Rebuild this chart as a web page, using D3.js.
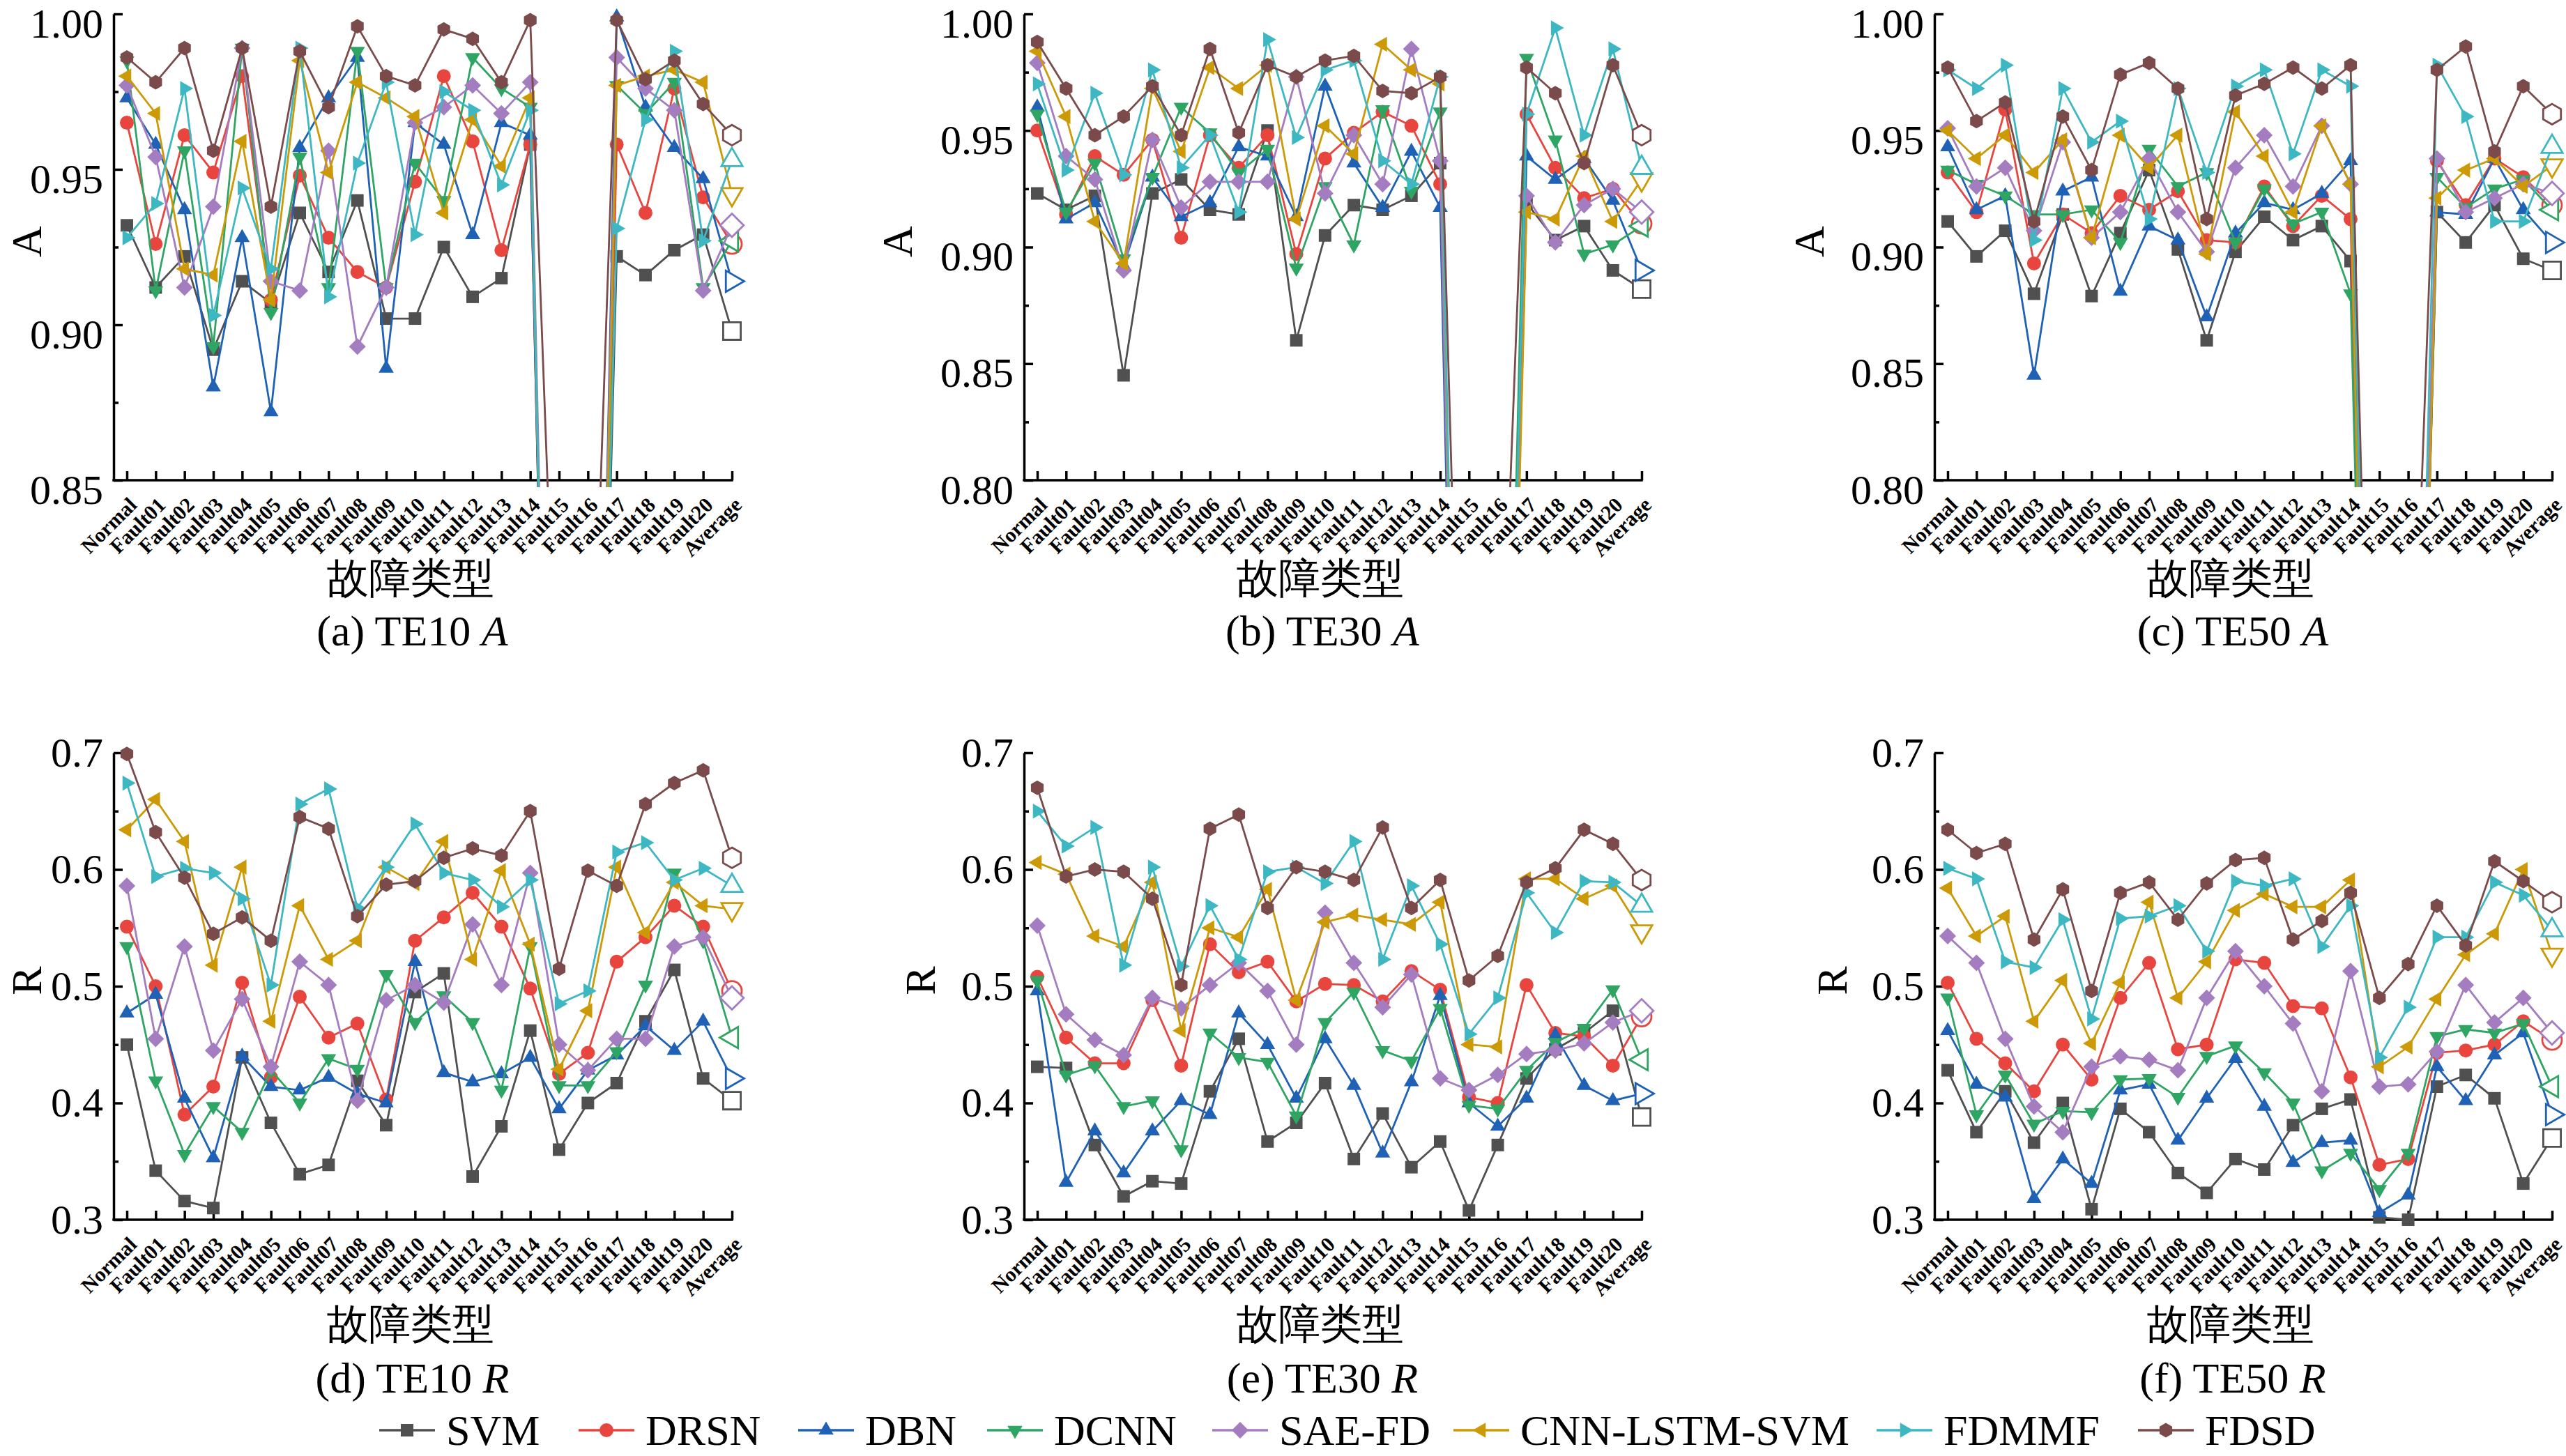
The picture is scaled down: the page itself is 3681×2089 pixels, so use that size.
<!DOCTYPE html>
<html>
<head>
<meta charset="utf-8">
<script src="https://cdn.jsdelivr.net/npm/d3@7"></script>
<style>
body{margin:0;background:#fff}
svg{display:block}
text{font-family:"Liberation Serif","Times New Roman",serif;fill:#000}
</style>
</head>
<body>
<div class="box"></div>
<script>
const categories=['Normal','Fault01','Fault02','Fault03','Fault04','Fault05','Fault06','Fault07','Fault08','Fault09','Fault10',
  'Fault11','Fault12','Fault13','Fault14','Fault15','Fault16','Fault17','Fault18','Fault19','Fault20','Average'];
const methods=['SVM','DRSN','DBN','DCNN','SAE-FD','CNN-LSTM-SVM','FDMMF','FDSD'];
const couleurs=['#505050','#E8453F','#1F62B5','#2EA563','#A47CC0','#CC9A06','#3DB8C2','#7B4B4B'];
const formes=['square','circle','up','down','diamond','left','right','hexagon'];
const formesMoy=['square','circle','right','left','diamond','down','up','hexagon'];

const ticksA1=[0.85,0.90,0.95,1.00], minorA1=[0.875,0.925,0.975];
const ticksA2=[0.80,0.85,0.90,0.95,1.00], minorA2=[0.825,0.875,0.925,0.975];
const ticksR=[0.3,0.4,0.5,0.6,0.7], minorR=[0.35,0.45,0.55,0.65];

// une ligne par méthode, dans l'ordre de methods
const te10A=[
 [0.932,0.912,0.922,0.892,0.914,0.907,0.936,0.917,0.940,0.902,0.902,0.925,0.909,0.915,0.958,0.56,0.57,0.922,0.916,0.924,0.929,0.898],
 [0.965,0.926,0.961,0.949,0.980,0.908,0.948,0.928,0.917,0.912,0.946,0.980,0.959,0.924,0.958,0.55,0.56,0.958,0.936,0.976,0.941,0.926],
 [0.973,0.958,0.937,0.880,0.928,0.872,0.957,0.973,0.986,0.886,0.965,0.958,0.929,0.965,0.961,0.54,0.55,0.999,0.970,0.957,0.947,0.914],
 [0.985,0.911,0.956,0.893,0.989,0.904,0.954,0.912,0.988,0.912,0.952,0.940,0.986,0.976,0.970,0.55,0.54,0.977,0.968,0.978,0.912,0.927],
 [0.977,0.954,0.912,0.938,0.989,0.914,0.911,0.956,0.893,0.912,0.965,0.970,0.977,0.968,0.978,0.56,0.56,0.986,0.976,0.969,0.911,0.932],
 [0.980,0.968,0.918,0.916,0.959,0.908,0.985,0.949,0.978,0.973,0.967,0.936,0.966,0.951,0.973,0.53,0.55,0.977,0.980,0.982,0.978,0.942],
 [0.928,0.939,0.976,0.903,0.944,0.918,0.989,0.909,0.952,0.978,0.929,0.975,0.969,0.945,0.969,0.55,0.58,0.931,0.966,0.988,0.927,0.953],
 [0.986,0.978,0.989,0.956,0.989,0.938,0.988,0.970,0.996,0.980,0.977,0.995,0.992,0.978,0.998,0.75,0.73,0.998,0.979,0.985,0.971,0.961]
];
const te30A=[
 [0.923,0.916,0.922,0.845,0.923,0.929,0.916,0.914,0.950,0.860,0.905,0.918,0.916,0.922,0.936,0.38,0.45,0.919,0.903,0.909,0.890,0.882],
 [0.950,0.914,0.939,0.931,0.946,0.904,0.948,0.934,0.948,0.897,0.938,0.949,0.958,0.952,0.927,0.37,0.46,0.957,0.934,0.921,0.925,0.910],
 [0.960,0.912,0.919,0.892,0.930,0.913,0.919,0.943,0.939,0.913,0.969,0.936,0.917,0.941,0.917,0.36,0.44,0.939,0.929,0.938,0.920,0.890],
 [0.957,0.915,0.936,0.895,0.930,0.960,0.949,0.932,0.942,0.891,0.926,0.901,0.959,0.924,0.958,0.38,0.47,0.981,0.946,0.897,0.901,0.909],
 [0.979,0.939,0.929,0.890,0.946,0.917,0.928,0.928,0.928,0.973,0.923,0.948,0.927,0.985,0.937,0.37,0.45,0.922,0.902,0.918,0.925,0.915],
 [0.984,0.956,0.911,0.893,0.968,0.941,0.977,0.968,0.978,0.912,0.952,0.940,0.987,0.976,0.970,0.36,0.43,0.915,0.912,0.939,0.911,0.929],
 [0.970,0.933,0.966,0.931,0.976,0.934,0.948,0.915,0.989,0.947,0.976,0.980,0.937,0.927,0.973,0.39,0.46,0.957,0.994,0.948,0.985,0.934],
 [0.988,0.968,0.948,0.956,0.969,0.948,0.985,0.949,0.978,0.973,0.980,0.982,0.967,0.966,0.973,0.54,0.66,0.977,0.966,0.936,0.978,0.948]
];
const te50A=[
 [0.911,0.896,0.907,0.880,0.914,0.879,0.906,0.933,0.899,0.860,0.898,0.913,0.903,0.909,0.894,0.40,0.45,0.915,0.902,0.918,0.895,0.890],
 [0.932,0.915,0.959,0.893,0.914,0.906,0.922,0.916,0.924,0.903,0.902,0.926,0.909,0.922,0.912,0.39,0.46,0.937,0.918,0.938,0.930,0.918],
 [0.943,0.916,0.922,0.845,0.924,0.930,0.881,0.909,0.903,0.870,0.906,0.919,0.916,0.923,0.937,0.41,0.44,0.915,0.914,0.938,0.916,0.902],
 [0.933,0.927,0.922,0.914,0.914,0.916,0.902,0.942,0.926,0.932,0.902,0.925,0.910,0.915,0.880,0.40,0.45,0.930,0.917,0.925,0.929,0.916],
 [0.951,0.926,0.934,0.907,0.945,0.904,0.915,0.938,0.915,0.898,0.934,0.948,0.926,0.952,0.927,0.38,0.46,0.938,0.915,0.921,0.927,0.923],
 [0.950,0.938,0.948,0.932,0.946,0.904,0.948,0.934,0.948,0.897,0.958,0.939,0.915,0.952,0.927,0.39,0.43,0.921,0.933,0.938,0.926,0.935],
 [0.976,0.968,0.978,0.903,0.968,0.945,0.954,0.912,0.968,0.932,0.969,0.976,0.940,0.976,0.969,0.41,0.47,0.978,0.956,0.911,0.911,0.943],
 [0.977,0.954,0.962,0.911,0.956,0.933,0.974,0.979,0.968,0.912,0.965,0.970,0.977,0.968,0.978,0.50,0.64,0.976,0.986,0.941,0.969,0.957]
];
const te10R=[
 [0.450,0.342,0.316,0.310,0.439,0.383,0.339,0.347,0.419,0.381,0.495,0.511,0.337,0.380,0.462,0.360,0.400,0.417,0.470,0.514,0.421,0.402],
 [0.551,0.500,0.390,0.414,0.503,0.422,0.491,0.456,0.468,0.403,0.539,0.559,0.580,0.551,0.498,0.425,0.443,0.521,0.542,0.569,0.551,0.496],
 [0.477,0.493,0.404,0.353,0.440,0.414,0.411,0.422,0.408,0.400,0.521,0.426,0.418,0.425,0.439,0.395,0.428,0.441,0.466,0.445,0.470,0.421],
 [0.534,0.419,0.356,0.397,0.375,0.428,0.400,0.438,0.429,0.510,0.469,0.492,0.469,0.411,0.534,0.415,0.415,0.444,0.501,0.597,0.539,0.456],
 [0.586,0.455,0.534,0.445,0.489,0.431,0.521,0.501,0.402,0.488,0.501,0.486,0.553,0.501,0.597,0.450,0.428,0.455,0.455,0.534,0.542,0.490],
 [0.634,0.660,0.624,0.518,0.602,0.470,0.569,0.523,0.539,0.602,0.588,0.624,0.523,0.599,0.536,0.429,0.479,0.602,0.546,0.589,0.569,0.566],
 [0.674,0.594,0.601,0.597,0.575,0.501,0.656,0.669,0.567,0.602,0.639,0.597,0.591,0.568,0.591,0.485,0.496,0.615,0.623,0.591,0.601,0.586],
 [0.699,0.632,0.593,0.545,0.559,0.539,0.645,0.635,0.560,0.587,0.590,0.610,0.618,0.612,0.650,0.515,0.599,0.586,0.656,0.674,0.685,0.610]
];
const te30R=[
 [0.431,0.430,0.364,0.320,0.333,0.331,0.410,0.455,0.367,0.383,0.417,0.352,0.391,0.345,0.367,0.308,0.364,0.421,0.446,0.460,0.479,0.388],
 [0.508,0.456,0.434,0.434,0.488,0.432,0.536,0.512,0.521,0.487,0.502,0.501,0.487,0.513,0.497,0.405,0.400,0.501,0.460,0.457,0.432,0.474],
 [0.496,0.332,0.376,0.340,0.376,0.402,0.390,0.477,0.450,0.404,0.455,0.415,0.357,0.418,0.492,0.400,0.380,0.404,0.458,0.415,0.402,0.408],
 [0.505,0.424,0.432,0.397,0.402,0.360,0.460,0.439,0.435,0.389,0.469,0.495,0.445,0.436,0.481,0.398,0.395,0.428,0.452,0.464,0.497,0.437],
 [0.552,0.476,0.454,0.441,0.490,0.481,0.501,0.520,0.496,0.450,0.563,0.520,0.482,0.510,0.421,0.411,0.424,0.442,0.445,0.451,0.469,0.479],
 [0.606,0.596,0.543,0.534,0.589,0.462,0.550,0.542,0.583,0.488,0.555,0.561,0.557,0.553,0.572,0.450,0.448,0.592,0.592,0.575,0.586,0.547],
 [0.650,0.620,0.636,0.518,0.602,0.517,0.569,0.523,0.598,0.602,0.588,0.624,0.523,0.586,0.536,0.459,0.490,0.580,0.546,0.590,0.589,0.569],
 [0.670,0.594,0.600,0.598,0.575,0.501,0.635,0.647,0.567,0.602,0.598,0.591,0.636,0.567,0.591,0.505,0.526,0.589,0.601,0.634,0.622,0.591]
];
const te50R=[
 [0.428,0.375,0.410,0.366,0.400,0.309,0.395,0.375,0.340,0.323,0.352,0.343,0.381,0.395,0.403,0.302,0.300,0.414,0.424,0.404,0.331,0.370],
 [0.503,0.455,0.434,0.410,0.450,0.420,0.490,0.520,0.446,0.450,0.523,0.520,0.483,0.481,0.422,0.347,0.352,0.443,0.445,0.450,0.470,0.454],
 [0.462,0.416,0.405,0.318,0.352,0.331,0.411,0.416,0.368,0.404,0.438,0.397,0.349,0.366,0.368,0.306,0.321,0.431,0.402,0.441,0.460,0.390],
 [0.490,0.390,0.424,0.382,0.393,0.392,0.420,0.421,0.405,0.440,0.449,0.426,0.400,0.342,0.357,0.326,0.357,0.457,0.463,0.460,0.468,0.414],
 [0.543,0.520,0.455,0.397,0.375,0.431,0.440,0.437,0.428,0.490,0.530,0.500,0.468,0.410,0.513,0.414,0.416,0.444,0.501,0.469,0.490,0.460],
 [0.584,0.543,0.560,0.470,0.505,0.451,0.503,0.572,0.490,0.521,0.565,0.579,0.568,0.568,0.591,0.431,0.448,0.489,0.527,0.545,0.600,0.527],
 [0.601,0.592,0.521,0.516,0.557,0.472,0.558,0.560,0.569,0.530,0.590,0.586,0.592,0.534,0.569,0.439,0.482,0.542,0.542,0.589,0.578,0.548],
 [0.634,0.614,0.622,0.540,0.583,0.496,0.580,0.589,0.557,0.588,0.608,0.610,0.540,0.556,0.580,0.490,0.519,0.569,0.535,0.607,0.590,0.572]
];

const W=3681,H=2089;
const rangs=[{top:20,bottom:689,xlab:830,cap:905,dy:'0.55em'},{top:1080,bottom:1750,xlab:1900,cap:1977,dy:'0.32em'}];
const colonnes=[{axe:163,x0:182,x1:1050},{axe:1469,x0:1488,x1:2355},{axe:2775,x0:2794,x1:3661}];
const legendeX=[544,830,1145,1416,1739,2085,2692,3067];

const panels=[
 {id:'a',rang:0,col:0,data:te10A,ticks:ticksA1,minor:minorA1,dom:[0.85,1],fmt:'.2f',ylab:'A',ylx:38,cap:'(a) TE10 ',capI:'A'},
 {id:'b',rang:0,col:1,data:te30A,ticks:ticksA2,minor:minorA2,dom:[0.80,1],fmt:'.2f',ylab:'A',ylx:1287,cap:'(b) TE30 ',capI:'A'},
 {id:'c',rang:0,col:2,data:te50A,ticks:ticksA2,minor:minorA2,dom:[0.80,1],fmt:'.2f',ylab:'A',ylx:2595,cap:'(c) TE50 ',capI:'A'},
 {id:'d',rang:1,col:0,data:te10R,ticks:ticksR,minor:minorR,dom:[0.3,0.7],fmt:'.1f',ylab:'R',ylx:38,cap:'(d) TE10 ',capI:'R'},
 {id:'e',rang:1,col:1,data:te30R,ticks:ticksR,minor:minorR,dom:[0.3,0.7],fmt:'.1f',ylab:'R',ylx:1320,cap:'(e) TE30 ',capI:'R'},
 {id:'f',rang:1,col:2,data:te50R,ticks:ticksR,minor:minorR,dom:[0.3,0.7],fmt:'.1f',ylab:'R',ylx:2628,cap:'(f) TE50 ',capI:'R'}
];

const forme=(type,r)=>{
  const poly=(angles,rr)=>'M'+angles.map(a=>{
    const t=a*Math.PI/180;
    return [rr*Math.cos(t),rr*Math.sin(t)].map(v=>v.toFixed(2)).join(',');
  }).join('L')+'Z';
  switch(type){
    case 'circle': return `M${r},0A${r},${r} 0 1,1 ${-r},0A${r},${r} 0 1,1 ${r},0Z`;
    case 'square': {const s=r*0.9; return `M${-s},${-s}H${s}V${s}H${-s}Z`;}
    case 'diamond': return poly([-90,0,90,180],r*1.2);
    case 'up': return poly([-90,30,150],r*1.25);
    case 'down': return poly([90,210,330],r*1.25);
    case 'left': return poly([180,300,60],r*1.25);
    case 'right': return poly([0,120,240],r*1.25);
    case 'hexagon': return poly([-90,-30,30,90,150,210],r*1.05);
  }
};

const svg=d3.select('.box')
  .append('svg')
  .attr('width',W)
  .attr('height',H);

panels.forEach(p=>{
  const rg=rangs[p.rang], cl=colonnes[p.col];
  const x=d3.scalePoint().domain(categories).range([cl.x0,cl.x1]);
  const y=d3.scaleLinear().domain(p.dom).range([rg.bottom,rg.top]);
  const g=svg.append('g');

  svg.append('clipPath').attr('id','clip-'+p.id)
    .append('rect')
    .attr('x',cl.axe).attr('y',rg.top-40)
    .attr('width',cl.x1-cl.axe+40).attr('height',rg.bottom-rg.top+50);

  // axe y
  const ay=g.append('g').attr('transform',`translate(${cl.axe},0)`)
    .call(d3.axisLeft(y).tickValues(p.ticks).tickFormat(d3.format(p.fmt))
      .tickSizeInner(-13).tickSizeOuter(0).tickPadding(15));
  ay.select('.domain').attr('stroke','#000').attr('stroke-width',3.5);
  ay.selectAll('.tick line').attr('stroke','#000').attr('stroke-width',3.5);
  ay.selectAll('text').attr('font-size',60).attr('dy',rg.dy)
    .attr('font-family','"Liberation Serif",serif');
  const my=g.append('g').attr('transform',`translate(${cl.axe},0)`)
    .call(d3.axisLeft(y).tickValues(p.minor).tickFormat('').tickSizeInner(-7).tickSizeOuter(0));
  my.select('.domain').remove();
  my.selectAll('.tick line').attr('stroke','#000').attr('stroke-width',3.5);

  // axe x
  const ax=g.append('g').attr('transform',`translate(0,${rg.bottom})`)
    .call(d3.axisBottom(x).tickSizeInner(-13).tickSizeOuter(0));
  ax.select('.domain').remove();
  ax.selectAll('.tick line').attr('stroke','#000').attr('stroke-width',3.5);
  ax.selectAll('text')
    .attr('font-size',30).attr('font-weight','bold').attr('font-family','"Liberation Serif",serif')
    .attr('text-anchor','end').attr('x',0).attr('y',0).attr('dy','0.35em')
    .attr('transform','translate(8,30) rotate(-45)');
  g.append('line')
    .attr('x1',cl.axe-1.75).attr('x2',cl.x1+1.75)
    .attr('y1',rg.bottom).attr('y2',rg.bottom)
    .attr('stroke','#000').attr('stroke-width',3.5);

  // courbes
  const trace=d3.line().x((d,i)=>x(categories[i])).y(d=>y(d));
  const zone=g.append('g').attr('clip-path',`url(#clip-${p.id})`);
  p.data.forEach((serie,k)=>{
    zone.append('path')
      .attr('d',trace(serie))
      .attr('fill','none')
      .attr('stroke',couleurs[k])
      .attr('stroke-width',2.8);
    zone.selectAll(null)
      .data(serie)
      .enter()
      .append('path')
      .attr('transform',(d,i)=>`translate(${x(categories[i])},${y(d)})`)
      .attr('d',(d,i)=>i===categories.length-1 ? forme(formesMoy[k],14) : forme(formes[k],10))
      .attr('fill',(d,i)=>i===categories.length-1 ? '#fff' : couleurs[k])
      .attr('stroke',couleurs[k])
      .attr('stroke-width',(d,i)=>i===categories.length-1 ? 2.8 : 0);
  });

  // titres
  g.append('text')
    .attr('x',(cl.axe+cl.x1)/2-18).attr('y',rg.xlab)
    .attr('text-anchor','middle').attr('dominant-baseline','central')
    .attr('font-family','"Noto Sans CJK SC",sans-serif')
    .attr('font-size',60)
    .text('故障类型');
  const cap=g.append('text')
    .attr('x',(cl.axe+cl.x1)/2-15).attr('y',rg.cap)
    .attr('text-anchor','middle').attr('dominant-baseline','central')
    .attr('font-size',62);
  cap.append('tspan').text(p.cap);
  cap.append('tspan').attr('font-style','italic').text(p.capI);
  g.append('text')
    .attr('transform',`translate(${p.ylx},${(rg.top+rg.bottom)/2-8}) rotate(-90)`)
    .attr('text-anchor','middle').attr('dominant-baseline','central')
    .attr('font-size',62)
    .text(p.ylab);
});

// légende
const legende=svg.append('g').attr('class','legend').attr('transform','translate(0,2052)');
methods.forEach((m,k)=>{
  const item=legende.append('g').attr('transform',`translate(${legendeX[k]},0)`);
  item.append('line').attr('x1',0).attr('x2',80).attr('y1',0).attr('y2',0)
    .attr('stroke',couleurs[k]).attr('stroke-width',3.5);
  item.append('path').attr('transform','translate(40,0)')
    .attr('d',forme(formes[k],10)).attr('fill',couleurs[k]);
  item.append('text').attr('x',96).attr('y',0)
    .attr('dominant-baseline','central').attr('font-size',62).text(m);
});
</script>
</body>
</html>
